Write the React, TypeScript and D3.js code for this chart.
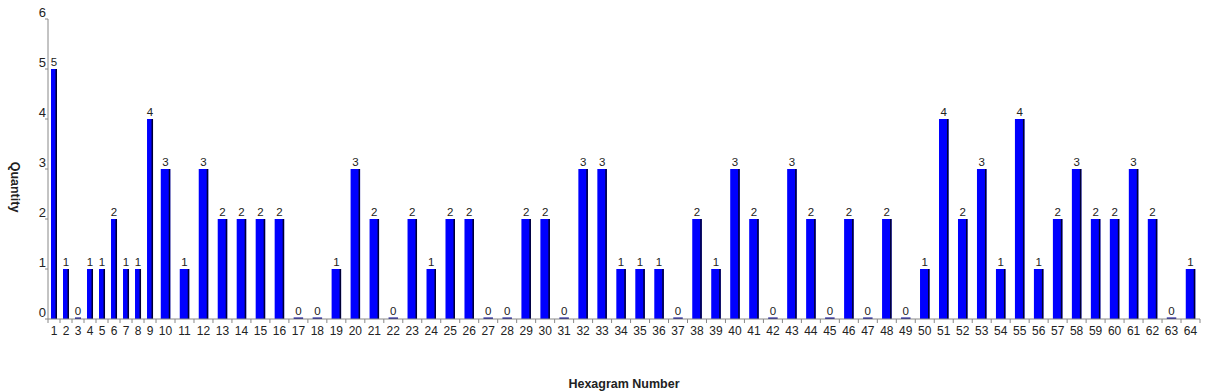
import React from "react";
import * as d3 from "d3";

const categories: string[] = Array.from({ length: 64 }, (_, i) => String(i + 1));
const values: number[] = [
  5, 1, 0, 1, 1, 2, 1, 1, 4, 3, 1, 3, 2, 2, 2, 2,
  0, 0, 1, 3, 2, 0, 2, 1, 2, 2, 0, 0, 2, 2, 0, 3,
  3, 1, 1, 1, 0, 2, 1, 3, 2, 0, 3, 2, 0, 2, 0, 2,
  0, 1, 4, 2, 3, 1, 4, 1, 2, 3, 2, 2, 3, 2, 0, 1,
];
const yTicks: number[] = [0, 1, 2, 3, 4, 5, 6];
const xTitle = "Hexagram Number";
const yTitle = "Quantity";

const W = 1206;
const H = 392;
const left = 48;
const right = 1200;
const top = 19;
const bottom = 319;
const font = "Arial, 'Liberation Sans', sans-serif";

export default function App() {
  // band widths depend on label length (as in the original chart)
  const weights = categories.map((c) => c.length + 0.72);
  const cum: number[] = [0];
  weights.forEach((w) => cum.push(cum[cum.length - 1] + w));
  const x = d3.scaleLinear().domain([0, cum[cum.length - 1]]).range([left, right]);
  const y = d3.scaleLinear().domain([0, 6]).range([bottom, top]);
  const axisColor = "#888";
  const textColor = "#222";

  return (
    <svg
      width={W}
      height={H}
      style={{ position: "fixed", left: 0, top: 0, background: "#fff" }}
      fontFamily={font}
    >
      {/* bars */}
      {values.map((v, i) => {
        const x0 = x(cum[i]);
        const x1 = x(cum[i + 1]);
        const bw = (x1 - x0) * 0.5;
        const cx = (x0 + x1) / 2;
        const bx = cx - bw / 2;
        const yt = v === 0 ? bottom - 1.5 : y(v);
        const h = bottom - yt;
        return (
          <g key={i}>
            {v === 0 ? (
              <rect x={bx} y={yt} width={bw} height={h} fill="#00008b" />
            ) : (
              <>
                <rect x={bx} y={yt} width={bw} height={h} fill="#0000ff" />
                <rect x={bx + bw - 1.5} y={yt} width={1.5} height={h} fill="#000033" />
              </>
            )}
            <text
              x={cx}
              y={yt - 3}
              textAnchor="middle"
              fontSize={11.5}
              fill={textColor}
            >
              {v}
            </text>
          </g>
        );
      })}

      {/* y axis */}
      <line x1={left} x2={left} y1={top} y2={bottom} stroke={axisColor} strokeWidth={1} />
      {yTicks.map((t) => (
        <g key={t}>
          <line x1={left - 3} x2={left} y1={y(t)} y2={y(t)} stroke={axisColor} />
          <text x={left - 2} y={y(t) - 2.5} textAnchor="end" fontSize={13} fill={textColor}>
            {t}
          </text>
        </g>
      ))}

      {/* x axis */}
      <line x1={left} x2={right} y1={bottom} y2={bottom} stroke={axisColor} strokeWidth={1} />
      {cum.map((c, i) => (
        <line key={i} x1={x(c)} x2={x(c)} y1={bottom} y2={bottom + 4} stroke={axisColor} />
      ))}
      {categories.map((c, i) => (
        <text
          key={c}
          x={(x(cum[i]) + x(cum[i + 1])) / 2}
          y={335}
          textAnchor="middle"
          fontSize={12}
          fill={textColor}
        >
          {c}
        </text>
      ))}

      {/* titles */}
      <text
        x={(left + right) / 2}
        y={388}
        textAnchor="middle"
        fontSize={12.5}
        fontWeight="bold"
        fill={textColor}
      >
        {xTitle}
      </text>
      <text
        transform={`translate(11,187) rotate(90)`}
        textAnchor="middle"
        fontSize={12.5}
        fontWeight="bold"
        fill={textColor}
      >
        {yTitle}
      </text>
    </svg>
  );
}
